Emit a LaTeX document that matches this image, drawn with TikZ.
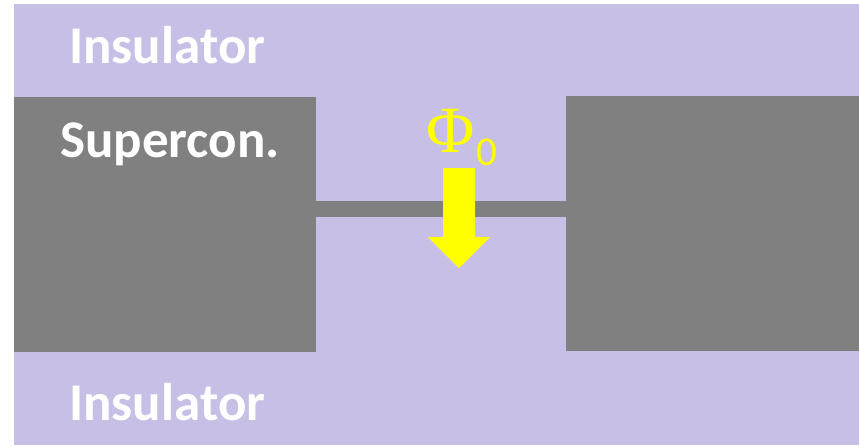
\documentclass[tikz,border=0pt]{standalone}
\usepackage{fontspec}
\setmainfont{Carlito}
\newfontfamily\phifont{Liberation Serif}
\definecolor{insul}{HTML}{C7BFE6}
\definecolor{sc}{HTML}{808080}
\definecolor{fluxy}{HTML}{FFFF00}
\begin{document}
\begin{tikzpicture}[x=1pt,y=-1pt,
  lbl/.style={inner sep=0pt,anchor=base west,text=white,font=\fontsize{53}{60}\selectfont\bfseries},
  block/.style={fill=sc,draw=none}]
\useasboundingbox (0,0) rectangle (859,445);
\fill[white] (0,0) rectangle (859,445);
\fill[insul] (14,4) rectangle (859,445) coordinate (bgcorner);
\fill[block] (14,97) rectangle (316,352) coordinate (lb);
\fill[block] (566,96) rectangle (859,351) coordinate (rb);
\fill[block] (316,201) rectangle (566,217) coordinate (bridge);
\node[lbl] (ins1) at (69,63) {Insulator};
\node[lbl] (ins2) at (69,420) {Insulator};
\node[lbl] (sup) at (60,157) {Supercon.};
\fill[fluxy] (443,168) -- (475,168) -- (475,237) -- (490,237) -- (459,268) -- (428,237) -- (443,237) -- cycle;
\node[inner sep=0pt,anchor=base west,text=fluxy,font=\phifont\fontsize{66}{72}\selectfont] (phi) at (426,152) {Φ};
\node[inner sep=0pt,anchor=base west,text=fluxy,font=\fontsize{41}{46}\selectfont] (zero) at (476,165) {0};
\end{tikzpicture}
\end{document}
